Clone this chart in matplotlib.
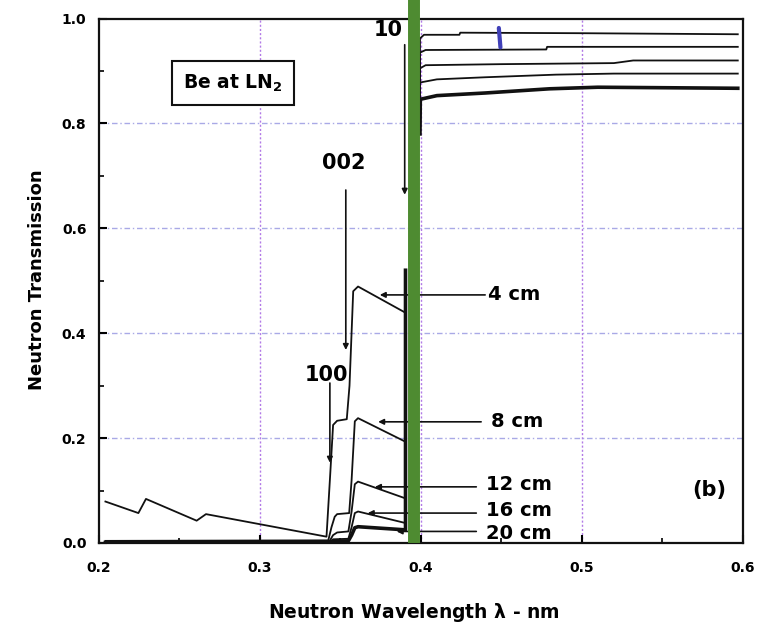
import numpy as np
import matplotlib.pyplot as plt

# thickness labels of the curves
thickness = ['4 cm', '8 cm', '12 cm', '16 cm', '20 cm']

# curves (wavelength nm, transmission); nan = hidden under the green bar
x_4 = [0.204, 0.2245, 0.2292, 0.2607, 0.2665, 0.3414, 0.3435, 0.3455, 0.348, 0.354, 0.3557, 0.358, 0.361,
       0.3905, 0.3905, np.nan, 0.3995, 0.3995, 0.402, 0.424, 0.4245, 0.50, 0.597]
y_4 = [0.079, 0.057, 0.084, 0.0425, 0.055, 0.012, 0.12, 0.225, 0.233, 0.236, 0.30, 0.48, 0.489,
       0.439, 0.52, np.nan, 0.80, 0.962, 0.969, 0.969, 0.973, 0.972, 0.970]

x_8 = [0.204, 0.3425, 0.3445, 0.3465, 0.348, 0.3555, 0.357, 0.359, 0.361,
       0.3905, 0.3905, np.nan, 0.3995, 0.3995, 0.403, 0.478, 0.4785, 0.597]
y_8 = [0.004, 0.005, 0.03, 0.05, 0.055, 0.057, 0.12, 0.232, 0.238,
       0.193, 0.52, np.nan, 0.80, 0.935, 0.940, 0.941, 0.946, 0.946]

x_12 = [0.204, 0.343, 0.3455, 0.348, 0.355, 0.357, 0.359, 0.361,
        0.3905, 0.3905, np.nan, 0.3995, 0.3995, 0.403, 0.45, 0.52, 0.532, 0.597]
y_12 = [0.002, 0.002, 0.015, 0.02, 0.022, 0.06, 0.112, 0.117,
        0.085, 0.52, np.nan, 0.80, 0.905, 0.911, 0.913, 0.915, 0.92, 0.92]

x_16 = [0.204, 0.343, 0.3455, 0.355, 0.357, 0.359, 0.361,
        0.3905, 0.3905, np.nan, 0.3995, 0.3995, 0.41, 0.44, 0.484, 0.52, 0.597]
y_16 = [0.001, 0.001, 0.007, 0.008, 0.03, 0.057, 0.060,
        0.038, 0.52, np.nan, 0.80, 0.878, 0.884, 0.888, 0.893, 0.895, 0.895]

x_20 = [0.204, 0.343, 0.3455, 0.355, 0.357, 0.359, 0.361,
        0.3905, 0.3905, np.nan, 0.3995, 0.3997, 0.41, 0.44, 0.48, 0.51, 0.597]
y_20 = [0.001, 0.001, 0.003, 0.004, 0.015, 0.029, 0.031,
        0.025, 0.52, np.nan, 0.78, 0.846, 0.853, 0.858, 0.866, 0.869, 0.867]

curves_x = [x_4, x_8, x_12, x_16, x_20]
curves_y = [y_4, y_8, y_12, y_16, y_20]
widths = [1.3, 1.3, 1.3, 1.3, 2.6]

# label arrows: (text x, text y, arrow tail x, arrow head x)
label_x = [0.4415, 0.4435, 0.4405, 0.4405, 0.4405]
label_y = [0.473, 0.231, 0.111, 0.061, 0.019]
tail_x = [0.4400, 0.4375, 0.4345, 0.4345, 0.4345]
head_x = [0.3745, 0.3735, 0.3715, 0.367, 0.385]
arrow_y = [0.473, 0.231, 0.107, 0.057, 0.022]

# reflection labels
refl = ['002', '100', '10']
refl_x = [0.352, 0.3416, 0.3888]
refl_y = [0.7245, 0.32, 0.978]
refl_arrow_x = [0.3534, 0.3435, 0.390]
refl_arrow_top = [0.673, 0.305, 0.95]
refl_arrow_bot = [0.368, 0.153, 0.664]

# marks on the scan itself
green_x = 0.3957
pen_x = [0.4485, 0.4495]
pen_y = [0.982, 0.945]

plt.rcParams['font.family'] = 'DejaVu Sans'
plt.rcParams['font.weight'] = 'bold'

fig = plt.figure(figsize=(7.59, 6.28), dpi=100)
ax = fig.add_axes([0.1304, 0.1354, 0.848, 0.8351])

for v in [0.3, 0.4, 0.5]:
    ax.axvline(v, color='#b27ae6', lw=1.0, ls=(0, (1.5, 1.5)), zorder=0)
for h in [0.2, 0.4, 0.6, 0.8]:
    ax.axhline(h, color='#a9a9e6', lw=1.0, ls=(0, (4, 2, 1, 2)), zorder=0)

for cx, cy, w in zip(curves_x, curves_y, widths):
    ax.plot(cx, cy, color='#111111', lw=w)

for t, tx, ty, x0, x1, ay in zip(thickness, label_x, label_y, tail_x, head_x, arrow_y):
    ax.annotate('', xy=(x1, ay), xytext=(x0, ay),
                arrowprops=dict(arrowstyle='-|>', lw=1.2, color='#111111', mutation_scale=8,
                                shrinkA=0, shrinkB=0))
    ax.text(tx, ty, t, fontsize=14, fontweight='bold', ha='left', va='center')

for r, tx, ty, axx, a0, a1 in zip(refl, refl_x, refl_y, refl_arrow_x, refl_arrow_top, refl_arrow_bot):
    ax.annotate('', xy=(axx, a1), xytext=(axx, a0),
                arrowprops=dict(arrowstyle='-|>', lw=1.2, color='#111111', mutation_scale=8,
                                shrinkA=0, shrinkB=0))
    ha = 'right' if r == '10' else 'center'
    ax.text(tx, ty, r, fontsize=15, fontweight='bold', ha=ha, va='center')

ax.text(0.283, 0.877, r'Be at LN$_\mathbf{2}$', fontsize=13.5, fontweight='bold', ha='center', va='center',
        bbox=dict(boxstyle='square,pad=0.6', fc='white', ec='#111111', lw=1.5))
ax.text(0.5795, 0.101, '(b)', fontsize=15, fontweight='bold', ha='center', va='center')

ax.plot(pen_x, pen_y, color='#4040b8', lw=3, solid_capstyle='round')
ax.axvline(green_x, ymin=0.011, ymax=1.04, color='#4e8b31', lw=8.6, clip_on=False, zorder=5)

ax.set_xlim(0.2, 0.6)
ax.set_ylim(0.0, 1.0)
ax.set_xticks([0.2, 0.3, 0.4, 0.5, 0.6])
ax.set_xticks([0.25, 0.35, 0.45, 0.55], minor=True)
ax.set_yticks([0.0, 0.2, 0.4, 0.6, 0.8, 1.0])
ax.set_yticks([0.1, 0.3, 0.5, 0.7, 0.9], minor=True)
ax.set_xticklabels(['0.2', '0.3', '0.4', '0.5', '0.6'])
ax.set_yticklabels(['0.0', '0.2', '0.4', '0.6', '0.8', '1.0'])
ax.tick_params(which='major', direction='in', length=6, width=1.5, labelsize=10)
ax.tick_params(which='minor', direction='in', length=3.5, width=1.2)
ax.tick_params(axis='x', pad=13)
ax.tick_params(axis='y', pad=9)
for s in ax.spines.values():
    s.set_linewidth(1.6)
    s.set_color('#111111')

fig.text(0.0487, 0.554, 'Neutron Transmission', rotation=90, fontsize=13, fontweight='bold',
         ha='center', va='center')
fig.text(414 / 759, 1 - 612 / 628, r'Neutron Wavelength $\mathbf{\lambda}$ - nm', fontsize=13.5,
         fontweight='bold', ha='center', va='center')

fig.savefig('out.png', dpi=100)
